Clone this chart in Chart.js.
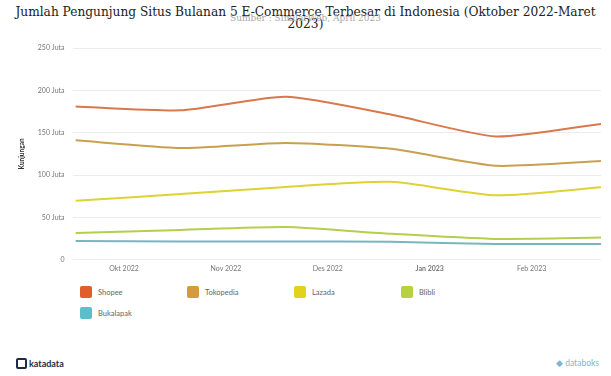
<!DOCTYPE html>
<html>
<head>
<meta charset="utf-8">
<script src="https://cdn.jsdelivr.net/npm/chart.js@4/dist/chart.umd.min.js"></script>
<style>
  html, body { margin: 0; padding: 0; background: #fff; }
  #wrap { position: relative; width: 611px; height: 376px; overflow: hidden; font-family: Lato, "Open Sans", sans-serif; }
  #title { position: absolute; left: 0; top: 6px; width: 611px; text-align: center; font-family: "DejaVu Serif", serif; font-size: 12.2px; line-height: 12px; color: #222; }
  #subtitle { position: absolute; left: 0; top: 13px; width: 611px; text-align: center; font-family: "DejaVu Serif", serif; font-size: 9px; color: #aaa; }
  #chartBox { position: absolute; left: 0; top: 36px; width: 611px; height: 242px; }
  #legend { position: absolute; left: 80px; top: 286px; width: 440px; display: grid; grid-template-columns: repeat(4, 107px); row-gap: 9px; }
  .item { display: flex; align-items: center; font-size: 7.5px; color: #666; }
  .sw { width: 12px; height: 12px; border-radius: 2px; margin-right: 6px; }
  #kata { position: absolute; left: 16px; top: 358px; font-size: 9px; font-weight: bold; color: #1d2b44; }
  #kata span { display: inline-block; width: 7px; height: 7px; border: 2px solid #1d2b44; border-radius: 2px; margin-right: 2px; vertical-align: -2px; }
  #boks { position: absolute; left: 556px; top: 358px; font-size: 8.5px; color: #7bb7d9; }
</style>
</head>
<body>
<div id="wrap">
  <div id="title">Jumlah Pengunjung Situs Bulanan 5 E-Commerce Terbesar di Indonesia (Oktober 2022-Maret<br>2023)</div>
  <div id="subtitle">Sumber : SimilarWeb, April 2023</div>
  <div id="chartBox"><canvas id="lineChart"></canvas></div>
  <div id="legend"></div>
  <div id="kata"><span></span>katadata</div>
  <div id="boks">&#9670; databoks</div>
</div>
<script>
// data bulanan (juta kunjungan), Okt 2022 - Mar 2023
const months = ['Okt 2022', 'Nov 2022', 'Des 2022', 'Jan 2023', 'Feb 2023', 'Mar 2023'];
const tickLabels = ['Okt 2022', 'Nov 2022', 'Des 2022', 'Jan 2023', 'Feb 2023'];
const shopee = [181, 176.5, 192.5, 171.5, 145.5, 160.5];
const tokopedia = [141, 132, 138, 131, 111, 116.5];
const lazada = [69.5, 77.5, 86, 92, 76, 85.5];
const blibli = [31.5, 35, 38.5, 30.5, 24.5, 26];
const bukalapak = [22, 21.5, 21.5, 21, 18.5, 18.5];

const seriesNames = ['Shopee', 'Tokopedia', 'Lazada', 'Blibli', 'Bukalapak'];
const seriesData = [shopee, tokopedia, lazada, blibli, bukalapak];
const colors = ['#e35d2b', '#d69a3c', '#e3d21c', '#b6d23a', '#5bbfcb'];
const lineColors = ['#d9784c', '#c9a04e', '#dfd235', '#b2cf4e', '#78b6bf'];

document.addEventListener('DOMContentLoaded', () => {
  const ctx = document.getElementById('lineChart').getContext('2d');

  const datasets = seriesNames.map((name, i) => ({
    label: name,
    data: seriesData[i].map((v, j) => ({ x: j, y: v })),
    borderColor: lineColors[i],
    backgroundColor: colors[i],
    borderWidth: 2,
    pointRadius: 0,
    tension: 0.2,
  }));

  new Chart(ctx, {
    type: 'line',
    data: { datasets },
    options: {
      responsive: true,
      maintainAspectRatio: false,
      animation: false,
      layout: { padding: { left: 14, right: 10, top: 5, bottom: 0 } },
      plugins: {
        legend: { display: false },
        tooltip: { enabled: false },
      },
      scales: {
        x: {
          type: 'linear',
          min: -0.03,
          max: 5,
          grid: { display: false, drawTicks: false },
          border: { display: false },
          afterBuildTicks: (axis) => {
            // label Highcharts-style: sedikit bergeser dari titik data
            axis.ticks = tickLabels.map((t, i) => ({ value: 0.46 + i * 0.97 }));
          },
          ticks: {
            autoSkip: false,
            maxRotation: 0,
            padding: 5,
            color: '#777',
            font: (c) => ({ family: 'Lato', size: 7, weight: c.index === 3 ? 'bold' : 'normal' }),
            callback: (v, i) => tickLabels[i],
          },
        },
        y: {
          min: 0,
          max: 250,
          ticks: {
            stepSize: 50,
            color: '#777',
            padding: 8,
            font: { family: 'Lato', size: 7 },
            callback: (v) => (v === 0 ? '0' : v + ' Juta'),
          },
          grid: { color: '#ececec', drawTicks: false },
          border: { display: false },
          title: {
            display: true,
            text: 'Kunjungan',
            color: '#333',
            font: { family: 'Lato', size: 6.5, weight: 'bold' },
            padding: { bottom: 4 },
          },
        },
      },
    },
  });

  const legend = document.getElementById('legend');
  seriesNames.forEach((name, i) => {
    const item = document.createElement('div');
    item.className = 'item';
    item.innerHTML = '<div class="sw" style="background:' + colors[i] + '"></div>' + name;
    legend.appendChild(item);
  });
});
</script>
</body>
</html>
